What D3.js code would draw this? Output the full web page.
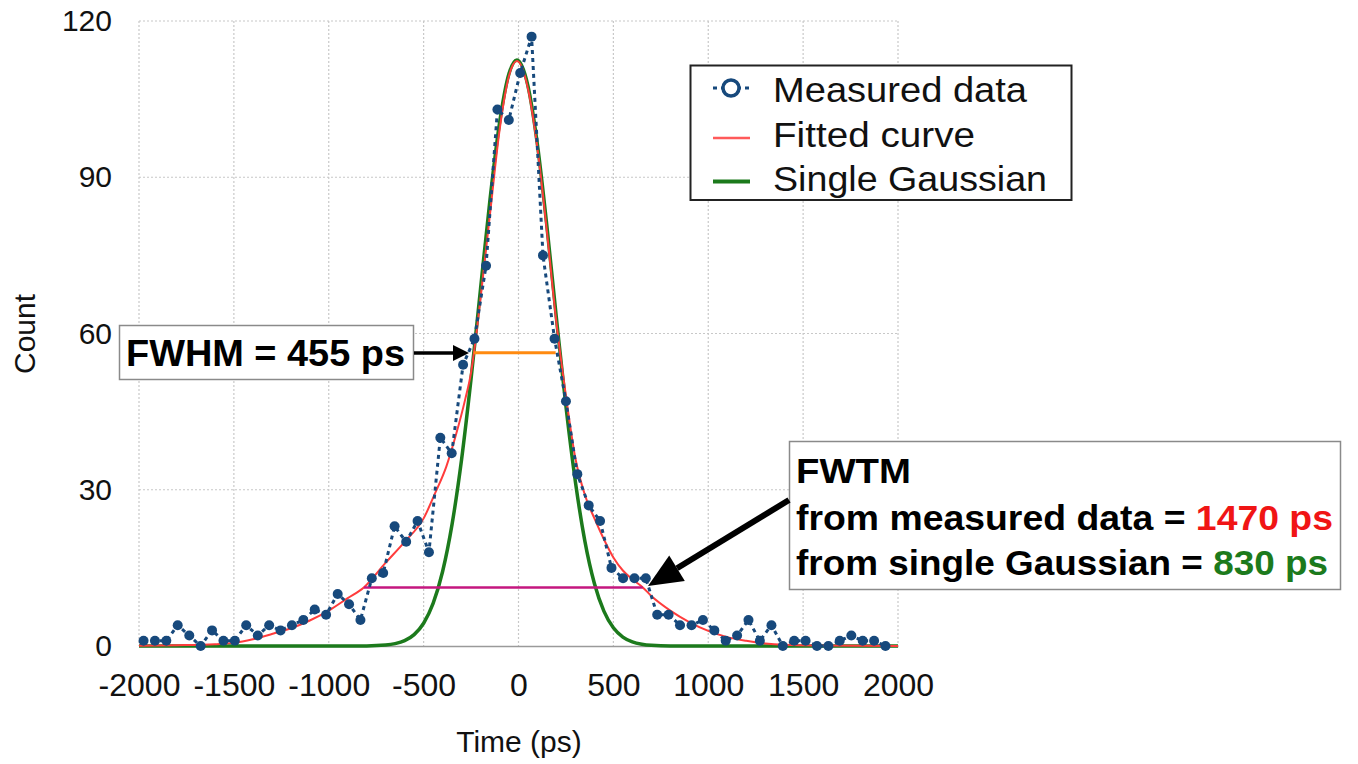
<!DOCTYPE html>
<html>
<head>
<meta charset="utf-8">
<script src="https://cdn.jsdelivr.net/npm/d3@7"></script>
<style>
  html, body { margin: 0; padding: 0; background: #fff; }
  svg { display: block; font-family: "Liberation Sans", Arial, Helvetica, sans-serif; }
</style>
</head>
<body>
<svg id="chart" width="1358" height="764"></svg>
<script>
// ---------- data ----------
const dataX = [-1976,-1916,-1856,-1796,-1735,-1675,-1615,-1555,-1495,-1435,-1374,-1314,-1254,-1194,-1134,-1074,-1014,-953,-893,-833,-773,-713,-653,-592,-532,-472,-412,-352,-292,-232,-171,-111,-51,9,69,129,190,250,310,370,430,490,551,611,671,731,791,851,912,972,1032,1092,1152,1212,1272,1333,1393,1453,1513,1573,1633,1693,1754,1814,1874,1934];
const dataY = [1,1,1,4,2,0,3,1,1,4,2,4,3,4,5,7,6,10,8,5,13,14,23,20,24,18,40,37,54,59,73,103,101,110,117,75,59,47,33,27,24,15,13,13,13,6,6,4,4,5,3,1,2,5,1,4,0,1,1,0,0,1,2,1,1,0];

const fitX = [-2000,-1800,-1600,-1500,-1400,-1300,-1200,-1100,-1000,-900,-815,-700,-600,-500,-440,-380,-330,-280,-250,-220,-190,-150,-100,-50,-8,50,100,150,200,250,300,350,400,450,500,550,600,655,700,800,900,1000,1100,1200,1300,1400,1600,2000];
const fitY = [0.05,0.15,0.35,0.6,1.3,2.3,3.4,4.9,6.8,9.2,11.25,16.0,20.0,24.5,29.3,34.5,40.5,47.5,52.5,60.5,70,83,99,109.5,112.3,107,95.5,79.5,62,48,36,29,24.5,20.5,17,14.5,12.8,11.25,9.6,6.8,4.6,2.9,1.7,1.0,0.5,0.25,0.1,0.02];

const gaussX = [-2000,-1000,-800,-700,-650,-600,-550,-500,-450,-400,-350,-300,-250,-200,-150,-100,-50,-8,50,100,150,200,250,300,350,400,450,500,550,600,650,700,800,1000,2000];
const gaussY = [0,0,0.02,0.18,0.45,1.02,2.18,4.37,8.17,14.3,23.4,35.8,51.3,68.6,85.8,100.4,109.9,112.5,107.5,96.2,80.5,62.9,46.0,31.5,20.1,12.0,6.7,3.5,1.72,0.79,0.34,0.13,0.01,0,0];

const fwhmLine = {x0: -236, x1: 196, y: 56.3};
const fwtmLine = {x0: -815, x1: 655, y: 11.25};

const xTicks = [-2000,-1500,-1000,-500,0,500,1000,1500,2000];
const yTicks = [0,30,60,90,120];

const legendLabels = ["Measured data", "Fitted curve", "Single Gaussian"];

// ---------- layout ----------
const svg = d3.select("#chart");
const L = 139, R = 898, T = 21, B = 646;
const x = d3.scaleLinear().domain([-2000, 2000]).range([L, R]);
const y = d3.scaleLinear().domain([0, 120]).range([B, T]);

const navy = "#17497c", red = "#ff3c3c", green = "#1c7a1c", orange = "#ff8a10", magenta = "#c4177f";

// grid
const grid = svg.append("g");
grid.selectAll("line.v").data(xTicks).join("line")
  .attr("x1", d => x(d)).attr("x2", d => x(d)).attr("y1", T).attr("y2", B)
  .attr("stroke", "#c8c8c8").attr("stroke-width", 1.2).attr("stroke-dasharray", "2,2");
grid.selectAll("line.h").data(yTicks.filter(d => d > 0)).join("line")
  .attr("x1", L).attr("x2", R).attr("y1", d => y(d)).attr("y2", d => y(d))
  .attr("stroke", "#c8c8c8").attr("stroke-width", 1.2).attr("stroke-dasharray", "2,2");

// axes
const xAxis = svg.append("g").attr("transform", `translate(0,${B})`)
  .call(d3.axisBottom(x).tickValues(xTicks).tickSize(0).tickPadding(27).tickFormat(d => String(d)));
xAxis.select(".domain").attr("stroke", "#9a9a9a").attr("stroke-width", 1.5);
xAxis.selectAll("text").attr("font-size", 32).attr("fill", "#111").attr("font-family", "Liberation Sans, Arial, sans-serif");

const yAxis = svg.append("g").attr("transform", `translate(${L},0)`)
  .call(d3.axisLeft(y).tickValues(yTicks).tickSize(0).tickPadding(27).tickFormat(d => String(d)));
yAxis.select(".domain").remove();
yAxis.selectAll("text").attr("font-size", 30).attr("fill", "#111").attr("font-family", "Liberation Sans, Arial, sans-serif");

svg.append("text").attr("x", 519).attr("y", 752).attr("text-anchor", "middle")
  .attr("font-size", 30).attr("fill", "#111").text("Time (ps)");
svg.append("text").attr("transform", "translate(35,334) rotate(-90)").attr("text-anchor", "middle")
  .attr("font-size", 30).attr("fill", "#111").text("Count");

// curves
const line = d3.line().x(d => x(d[0])).y(d => y(d[1])).curve(d3.curveMonotoneX);
svg.append("path").datum(gaussX.map((v, i) => [v, gaussY[i]]))
  .attr("d", line).attr("fill", "none").attr("stroke", green).attr("stroke-width", 3.5);
svg.append("path").datum(fitX.map((v, i) => [v, fitY[i]]))
  .attr("d", line).attr("fill", "none").attr("stroke", red).attr("stroke-width", 2);

// FWTM / FWHM lines
svg.append("line").attr("x1", x(fwtmLine.x0)).attr("x2", x(fwtmLine.x1))
  .attr("y1", y(fwtmLine.y)).attr("y2", y(fwtmLine.y)).attr("stroke", magenta).attr("stroke-width", 2.5);
svg.append("line").attr("x1", x(fwhmLine.x0)).attr("x2", x(fwhmLine.x1))
  .attr("y1", y(fwhmLine.y)).attr("y2", y(fwhmLine.y)).attr("stroke", orange).attr("stroke-width", 3);

// measured data
const pts = dataX.map((v, i) => [v, dataY[i]]);
svg.append("path").datum(pts)
  .attr("d", d3.line().x(d => x(d[0])).y(d => y(d[1])))
  .attr("fill", "none").attr("stroke", navy).attr("stroke-width", 3).attr("stroke-dasharray", "4,4");
svg.append("g").selectAll("circle").data(pts).join("circle")
  .attr("cx", d => x(d[0])).attr("cy", d => y(d[1])).attr("r", 5).attr("fill", navy);

// arrow helper
function arrow(x1, y1, x2, y2, w, headL, headW) {
  const a = Math.atan2(y2 - y1, x2 - x1);
  const bx = x2 - headL * Math.cos(a), by = y2 - headL * Math.sin(a);
  svg.append("line").attr("x1", x1).attr("y1", y1).attr("x2", bx).attr("y2", by)
    .attr("stroke", "#000").attr("stroke-width", w);
  const px = -Math.sin(a) * headW / 2, py = Math.cos(a) * headW / 2;
  svg.append("polygon").attr("points", `${x2},${y2} ${bx + px},${by + py} ${bx - px},${by - py}`).attr("fill", "#000");
}

// FWHM annotation
svg.append("rect").attr("x", 119.5).attr("y", 325.5).attr("width", 294).attr("height", 54)
  .attr("fill", "#fff").attr("stroke", "#8a8a8a").attr("stroke-width", 1.5);
svg.append("text").attr("x", 126).attr("y", 366).attr("font-size", 37).attr("font-weight", "bold")
  .attr("fill", "#000").attr("textLength", 279).attr("lengthAdjust", "spacingAndGlyphs").text("FWHM = 455 ps");
arrow(414, 353, 469, 353, 3.5, 16, 16);

// FWTM annotation
svg.append("rect").attr("x", 789.5).attr("y", 441.5).attr("width", 551).attr("height", 148)
  .attr("fill", "#fff").attr("stroke", "#8a8a8a").attr("stroke-width", 1.5);
svg.append("text").attr("x", 796).attr("y", 483).attr("font-size", 35).attr("font-weight", "bold")
  .attr("fill", "#000").attr("textLength", 115).attr("lengthAdjust", "spacingAndGlyphs").text("FWTM");
const t2 = svg.append("text").attr("x", 796).attr("y", 530).attr("font-size", 35).attr("font-weight", "bold")
  .attr("textLength", 537).attr("lengthAdjust", "spacingAndGlyphs");
t2.append("tspan").attr("fill", "#000").text("from measured data = ");
t2.append("tspan").attr("fill", "#f01515").text("1470 ps");
const t3 = svg.append("text").attr("x", 796).attr("y", 575).attr("font-size", 35).attr("font-weight", "bold")
  .attr("textLength", 532).attr("lengthAdjust", "spacingAndGlyphs");
t3.append("tspan").attr("fill", "#000").text("from single Gaussian = ");
t3.append("tspan").attr("fill", "#1c7a1c").text("830 ps");
arrow(789, 500, 648, 586, 6, 34, 30);

// legend
const lg = svg.append("g");
lg.append("rect").attr("x", 690.5).attr("y", 65.5).attr("width", 381).attr("height", 134.5)
  .attr("fill", "#fff").attr("stroke", "#222").attr("stroke-width", 2);
lg.append("line").attr("x1", 713).attr("x2", 750).attr("y1", 88).attr("y2", 88)
  .attr("stroke", navy).attr("stroke-width", 2.8).attr("stroke-dasharray", "4,4");
lg.append("circle").attr("cx", 731).attr("cy", 88).attr("r", 8)
  .attr("fill", "#fff").attr("stroke", navy).attr("stroke-width", 3.5);
lg.append("line").attr("x1", 713).attr("x2", 750).attr("y1", 138).attr("y2", 138)
  .attr("stroke", "#ff5a5a").attr("stroke-width", 2.5);
lg.append("line").attr("x1", 713).attr("x2", 750).attr("y1", 181.5).attr("y2", 181.5)
  .attr("stroke", green).attr("stroke-width", 4);
const legendLen = [254, 202, 274];
lg.selectAll("text").data(legendLabels).join("text")
  .attr("x", 773).attr("y", (d, i) => 102 + i * 44.5)
  .attr("font-size", 35).attr("fill", "#111")
  .attr("textLength", (d, i) => legendLen[i]).attr("lengthAdjust", "spacingAndGlyphs")
  .text(d => d);
</script>
</body>
</html>
